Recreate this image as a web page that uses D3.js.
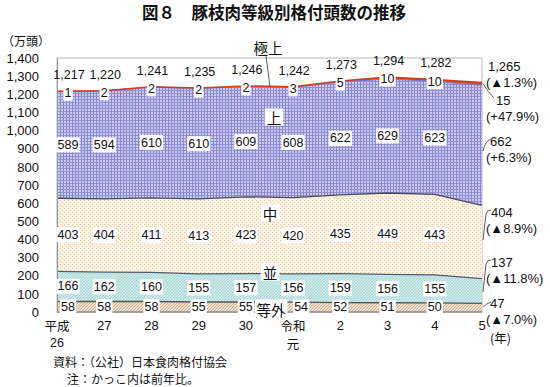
<!DOCTYPE html>
<html>
<head>
<meta charset="utf-8">
<script src="https://cdn.jsdelivr.net/npm/d3@7"></script>
<style>
  body { margin: 0; background: #fff; }
  svg text { font-family: "Liberation Sans", "Noto Sans CJK JP", sans-serif; fill: #111; }
  .jp { font-family: "Noto Sans CJK JP", sans-serif; }
</style>
</head>
<body>
<div id="chart"></div>
<script>
  const years = ['平成26', '27', '28', '29', '30', '令和元', '2', '3', '4', '5'];
  const grades = ['等外', '並', '中', '上', '極上'];

  const tougai = [58, 58, 58, 55, 55, 54, 52, 51, 50, 47];
  const nami   = [166, 162, 160, 155, 157, 156, 159, 156, 155, 137];
  const chuu   = [403, 404, 411, 413, 423, 420, 435, 449, 443, 404];
  const jou    = [589, 594, 610, 610, 609, 608, 622, 629, 623, 662];
  const gokujo = [1, 2, 2, 2, 2, 3, 5, 10, 10, 15];
  const totals = [1217, 1220, 1241, 1235, 1246, 1242, 1273, 1294, 1282, 1265];

  const yTicks = d3.range(0, 1401, 100);

  const lastValues = ['1,265', '15', '662', '404', '137', '47'];
  const lastChange = ['(▲1.3%)', '(+47.9%)', '(+6.3%)', '(▲8.9%)', '(▲11.8%)', '(▲7.0%)'];

  const W = 550, H = 387;
  const m = { left: 57, right: 482, top: 58, bottom: 312 };

  const data = years.map((yr, i) => ({
    year: yr, '等外': tougai[i], '並': nami[i], '中': chuu[i], '上': jou[i], '極上': gokujo[i]
  }));

  const x = d3.scalePoint().domain(years).range([m.left, m.right]);
  const y = d3.scaleLinear().domain([0, 1400]).range([m.bottom, m.top]);

  const svg = d3.select('#chart').append('svg')
    .attr('width', W).attr('height', H);

  // fill patterns
  const defs = svg.append('defs');
  const pJou = defs.append('pattern').attr('id', 'pJou')
    .attr('patternUnits', 'userSpaceOnUse').attr('width', 3).attr('height', 3);
  pJou.append('rect').attr('width', 3).attr('height', 3).attr('fill', '#cacaf2');
  pJou.append('rect').attr('width', 1).attr('height', 3).attr('fill', '#8484cc');
  pJou.append('rect').attr('width', 3).attr('height', 1).attr('fill', '#9090d2');

  const pChuu = defs.append('pattern').attr('id', 'pChuu')
    .attr('patternUnits', 'userSpaceOnUse').attr('width', 4).attr('height', 4);
  pChuu.append('rect').attr('width', 4).attr('height', 4).attr('fill', '#fdf3e4');
  pChuu.append('rect').attr('x', 0).attr('y', 0).attr('width', 1).attr('height', 1).attr('fill', '#f2c394');
  pChuu.append('rect').attr('x', 2).attr('y', 2).attr('width', 1).attr('height', 1).attr('fill', '#f2c394');

  const pNami = defs.append('pattern').attr('id', 'pNami')
    .attr('patternUnits', 'userSpaceOnUse').attr('width', 3).attr('height', 3);
  pNami.append('rect').attr('width', 3).attr('height', 3).attr('fill', '#cdeaea');
  pNami.append('path').attr('d', 'M0,3 L3,0').attr('stroke', '#a6d3d4').attr('stroke-width', 1);

  const pTou = defs.append('pattern').attr('id', 'pTou')
    .attr('patternUnits', 'userSpaceOnUse').attr('width', 3).attr('height', 3);
  pTou.append('rect').attr('width', 3).attr('height', 3).attr('fill', '#efdfce');
  pTou.append('path').attr('d', 'M0,3 L3,0').attr('stroke', '#ccb096').attr('stroke-width', 1);

  const fills = { '等外': 'url(#pTou)', '並': 'url(#pNami)', '中': 'url(#pChuu)', '上': 'url(#pJou)', '極上': '#e2401c' };
  const edges = { '等外': '#555', '並': '#4d5e6a', '中': '#4a4a5a', '上': '#7a7ac4', '極上': '#d83a18' };

  // frame
  svg.append('rect')
    .attr('x', m.left).attr('y', m.top)
    .attr('width', m.right - m.left).attr('height', m.bottom - m.top)
    .attr('fill', 'none').attr('stroke', '#b8b8b8');

  const series = d3.stack().keys(grades)(data);

  const area = d3.area()
    .x(d => x(d.data.year))
    .y0(d => y(d[0]))
    .y1(d => y(d[1]));

  svg.append('g').selectAll('path')
    .data(series)
    .join('path')
    .attr('fill', d => fills[d.key])
    .attr('d', area);

  const topLine = d3.line().x(d => x(d.data.year)).y(d => y(d[1]));
  svg.append('g').selectAll('path')
    .data(series)
    .join('path')
    .attr('fill', 'none')
    .attr('stroke', d => edges[d.key])
    .attr('stroke-width', d => d.key === '極上' ? 1.5 : 1.3)
    .attr('d', topLine);

  svg.append('line')
    .attr('x1', m.left).attr('x2', m.right).attr('y1', m.bottom).attr('y2', m.bottom)
    .attr('stroke', '#666');

  // y axis
  const yAxis = svg.append('g')
    .attr('transform', `translate(${m.left},0)`)
    .call(d3.axisLeft(y).tickValues(yTicks).tickFormat(d3.format(',')).tickSize(0).tickPadding(18));
  yAxis.select('.domain').attr('stroke', '#999');
  yAxis.selectAll('text').style('font-size', '13px').attr('fill', '#111');

  svg.append('text').attr('class', 'jp')
    .attr('x', 2).attr('y', 46).style('font-size', '12px').text('（万頭）');

  // x labels (era names split over two lines)
  const xl = svg.append('g');
  years.forEach(yr => {
    const lines = yr.length > 2 ? [yr.slice(0, 2), yr.slice(2)] : [yr];
    lines.forEach((s, k) => {
      xl.append('text')
        .attr('class', /\d/.test(s) ? null : 'jp')
        .attr('text-anchor', 'middle')
        .attr('x', x(yr))
        .attr('y', 325 + k * 18)
        .attr('dominant-baseline', 'central')
        .style('font-size', lines.length > 1 ? '12.5px' : '13px')
        .text(s);
    });
  });
  svg.append('text').attr('class', 'jp')
    .attr('x', 490).attr('y', 337).attr('dominant-baseline', 'central')
    .style('font-size', '12.5px').text('(年)');

  // value labels with white boxes
  const labels = svg.append('g');
  function boxLabel(g, tx, ty, str, size, pad) {
    const t = g.append('text')
      .attr('x', tx).attr('y', ty)
      .attr('text-anchor', 'middle')
      .attr('dominant-baseline', 'central')
      .style('font-size', size + 'px')
      .text(str);
    const b = t.node().getBBox();
    g.insert('rect', () => t.node())
      .attr('x', b.x - pad).attr('y', b.y - 0.5)
      .attr('width', b.width + pad * 2).attr('height', b.height + 1)
      .attr('fill', '#fff');
    return t;
  }

  const fmt = d3.format(',');
  data.forEach((d, i) => {
    if (i === years.length - 1) return;
    const cx = x(d.year) + (i === 0 ? 11 : 0);
    series.forEach(s => {
      const v = s[i];
      const val = v[1] - v[0];
      const cy = s.key === '極上' ? y(v[1]) + 2 : y((v[0] + v[1]) / 2);
      const dx = (s.key === '等外' && i === 5) ? 8 : 0;
      boxLabel(labels, cx + dx, cy, val, 12.5, 1.2);
    });
    labels.append('text')
      .attr('x', x(d.year) + (i === 0 ? 12 : 1))
      .attr('y', y(totals[i]) - 16)
      .attr('text-anchor', 'middle')
      .attr('dominant-baseline', 'central')
      .style('font-size', '12.5px')
      .text(fmt(totals[i]));
  });

  // grade names
  const names = svg.append('g');
  boxLabel(names, 268, 47, '極上', 14.5, 1).attr('class', 'jp');
  boxLabel(names, 274, 117, '上', 14.5, 2).attr('class', 'jp');
  boxLabel(names, 270, 213, '中', 14.5, 2).attr('class', 'jp');
  boxLabel(names, 270, 272, '並', 14.5, 2).attr('class', 'jp');
  boxLabel(names, 271, 309, '等外', 14.5, 1.5).attr('class', 'jp');
  svg.append('line')
    .attr('x1', 266).attr('y1', 56).attr('x2', 270).attr('y2', y(totals[5]))
    .attr('stroke', '#333').attr('stroke-width', 0.8);

  // right side labels for the last year
  const rl = svg.append('g');
  const rightY = [66, 100, 141, 212, 262, 303];
  const rightX = [488, 496, 490, 491, 491, 490];
  lastValues.forEach((v, i) => {
    rl.append('text').attr('x', rightX[i]).attr('y', rightY[i])
      .attr('dominant-baseline', 'central').style('font-size', '13px').text(v);
    rl.append('text').attr('x', 486).attr('y', rightY[i] + 16)
      .attr('dominant-baseline', 'central').style('font-size', '13px').text(lastChange[i]);
  });
  const xe = x(years[9]);
  const leaders = [
    `M${xe + 1},${y(1258)} Q${xe + 6},${y(1258) + 8} ${xe + 12},98`,
    `M${xe + 1},151 Q${xe + 3},141 ${xe + 9},139`,
    `M${xe + 1},240 L${xe + 4},214 Q${xe + 5},210 ${xe + 9},210`,
    `M${xe + 1},292 L${xe + 4},264 Q${xe + 5},260 ${xe + 9},260`,
    `M${xe + 1},307 Q${xe + 4},304 ${xe + 9},302`
  ];
  rl.selectAll('path').data(leaders).join('path')
    .attr('d', d => d).attr('fill', 'none').attr('stroke', '#333').attr('stroke-width', 0.8);

  // title and notes
  svg.append('text').attr('class', 'jp')
    .attr('x', 274).attr('y', 19).attr('text-anchor', 'middle')
    .style('font-size', '16.5px').style('font-weight', 'bold')
    .text('図８　豚枝肉等級別格付頭数の推移');
  svg.append('text').attr('class', 'jp')
    .attr('x', 53).attr('y', 367).style('font-size', '12px')
    .text('資料：（公社）日本食肉格付協会');
  svg.append('text').attr('class', 'jp')
    .attr('x', 67).attr('y', 384).style('font-size', '12px')
    .text('注：かっこ内は前年比。');
</script>
</body>
</html>
